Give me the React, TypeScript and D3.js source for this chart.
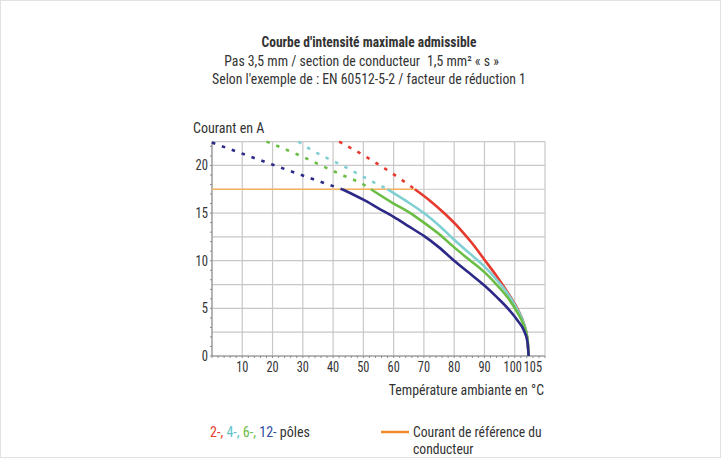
import * as d3 from "d3";

// temperature (°C) / current (A) points
const red2 = [[42, 22.5], [53, 20.5], [63.5, 18.3], [67, 17.5], [72, 16.3], [77, 14.9], [82, 13.3], [86, 11.8], [90, 10.1], [94, 8.4], [98, 6.5], [101, 4.9], [103, 3.4], [104.2, 1.8], [104.6, 0]];
const cyan4 = [[28.5, 22.5], [33, 21.6], [43, 20.0], [53, 18.3], [58, 17.5], [64, 16.3], [70, 15.0], [75, 13.7], [80, 12.2], [85, 10.8], [90, 9.4], [94, 8.0], [98, 6.4], [101, 4.8], [103, 3.4], [104.2, 1.8], [104.6, 0]];
const green6 = [[18, 22.5], [30, 20.9], [36, 20.0], [43, 19.0], [50, 18.0], [52.5, 17.5], [60, 16.0], [65, 15.1], [70, 14.0], [75, 12.8], [80, 11.4], [85, 10.1], [90, 8.8], [94, 7.5], [98, 6.0], [101, 4.5], [103, 3.2], [104.2, 1.8], [104.6, 0]];
const blue12 = [[0, 22.4], [19, 20.2], [33, 18.6], [43, 17.5], [50, 16.4], [55, 15.5], [60, 14.6], [65, 13.6], [70, 12.6], [75, 11.4], [80, 10.0], [85, 8.7], [90, 7.4], [94, 6.2], [98, 4.9], [101, 3.7], [103, 2.7], [104.2, 1.5], [104.6, 0]];

// where each curve meets the reference current (dashed before, solid after)
const joinTemps = [67, 58, 52.5, 43];
const seriesColors = ["#e63a2e", "#80cfd2", "#6bbd45", "#2d2a87"];
const series = [red2, cyan4, green6, blue12];

const refCurrent = 17.5;
const refEnd = 67;

const xTickLabels = [10, 20, 30, 40, 50, 60, 70, 80, 90, 100, 105];
const yTickLabels = [0, 5, 10, 15, 20];

const legendParts = [
  { text: "2-,", color: "#e63a2e" },
  { text: " 4-,", color: "#5fc3c8" },
  { text: " 6-,", color: "#6bbd45" },
  { text: " 12-", color: "#2d4f9e" },
  { text: " pôles", color: "#333" },
];

const FONT = "'Roboto Condensed', 'Liberation Sans Narrow', Roboto, sans-serif";

// text squeezed horizontally to get the narrow look of the original typeface
function CText({ x, y, sx = 0.95, anchor = "start", size = 14.5, weight = "normal", fill = "#333", children }: any) {
  return (
    <text
      transform={`translate(${x},${y}) scale(${sx},1)`}
      textAnchor={anchor}
      fontSize={size}
      fontWeight={weight}
      fill={fill}
      xmlSpace="preserve"
      style={{ whiteSpace: "pre" }}
    >
      {children}
    </text>
  );
}

export default function App() {
  const x = d3.scaleLinear().domain([0, 110]).range([212, 545]);
  const y = d3.scaleLinear().domain([0, 22.5]).range([356, 141.6]);

  const line = d3
    .line<number[]>()
    .x((d) => x(d[0]))
    .y((d) => y(d[1]))
    .curve(d3.curveMonotoneX);

  const gridX = d3.range(0, 111, 10);
  const gridY = d3.range(0, 22.6, 2.5);
  const minorX = d3.range(0, 111, 2);
  const minorY = d3.range(0, 23, 1);

  return (
    <svg
      width={721}
      height={458}
      style={{ position: "fixed", left: 0, top: 0, background: "#fff" }}
      fontFamily={FONT}
    >
      <rect x={0.5} y={0.5} width={720} height={457} fill="#fff" stroke="#e2e2e2" />

      {/* title */}
      <CText x={369} y={47} sx={0.93} anchor="middle" weight="bold">
        Courbe d'intensité maximale admissible
      </CText>
      <CText x={420} y={66} sx={0.95} anchor="end">
        Pas 3,5 mm / section de conducteur
      </CText>
      <CText x={427} y={66} sx={0.95}>
        1,5 mm² « s »
      </CText>
      <CText x={369} y={84} sx={0.95} anchor="middle">
        Selon l'exemple de : EN 60512-5-2 / facteur de réduction 1
      </CText>

      <CText x={193} y={133} sx={0.97}>
        Courant en A
      </CText>

      {/* grid */}
      <g stroke="#c8c8c8" strokeWidth={1.2}>
        {gridX.map((v) => (
          <line key={"gx" + v} x1={x(v)} x2={x(v)} y1={y(0)} y2={y(22.5)} />
        ))}
        {gridY.map((v) => (
          <line key={"gy" + v} x1={x(0)} x2={x(110)} y1={y(v)} y2={y(v)} />
        ))}
      </g>
      <g stroke="#8a8a8a" strokeWidth={1}>
        <line x1={x(0)} x2={x(0)} y1={y(0)} y2={y(22.5)} />
        <line x1={x(0)} x2={x(110)} y1={y(0)} y2={y(0)} />
        {minorX.map((v) => (
          <line key={"mx" + v} x1={x(v)} x2={x(v)} y1={y(0)} y2={y(0) + 2} />
        ))}
        {minorY.map((v) => (
          <line key={"my" + v} x1={x(0) - 2} x2={x(0)} y1={y(v)} y2={y(v)} />
        ))}
      </g>

      {/* tick labels */}
      {yTickLabels.map((v) => (
        <CText key={"yl" + v} x={x(0) - 4} y={y(v) + 5} sx={0.9} size={14} anchor="end">
          {String(v)}
        </CText>
      ))}
      {xTickLabels.map((v) => (
        <CText
          key={"xl" + v}
          x={v === 105 ? x(v) + 3 : v === 100 ? x(v) - 2 : x(v)}
          y={y(0) + 16}
          sx={0.88}
          size={14}
          anchor="middle"
        >
          {String(v)}
        </CText>
      ))}
      <CText x={544} y={395} sx={0.955} anchor="end">
        Température ambiante en °C
      </CText>

      {/* reference current */}
      <line
        x1={x(0)}
        x2={x(refEnd)}
        y1={y(refCurrent)}
        y2={y(refCurrent)}
        stroke="#f6b35e"
        strokeWidth={1.6}
      />

      {/* curves */}
      {series.map((s, i) => {
        const j = joinTemps[i];
        const dashed = s.filter((d) => d[0] <= j);
        const solid = s.filter((d) => d[0] >= j);
        return (
          <g key={"s" + i} fill="none" stroke={seriesColors[i]} strokeWidth={2.6}>
            <path d={line(dashed) || ""} strokeDasharray="3.5 7" />
            <path d={line(solid) || ""} />
          </g>
        );
      })}

      {/* legend */}
      <text transform="translate(210,437) scale(0.97,1)" fontSize={14.5} xmlSpace="preserve" style={{ whiteSpace: "pre" }}>
        {legendParts.map((p, i) => (
          <tspan key={"lp" + i} fill={p.color}>
            {p.text}
          </tspan>
        ))}
      </text>
      <line x1={381} x2={409} y1={432} y2={432} stroke="#f28a2a" strokeWidth={2.5} />
      <CText x={413} y={437} sx={0.94}>
        Courant de référence du
      </CText>
      <CText x={413} y={454} sx={0.94}>
        conducteur
      </CText>
    </svg>
  );
}
